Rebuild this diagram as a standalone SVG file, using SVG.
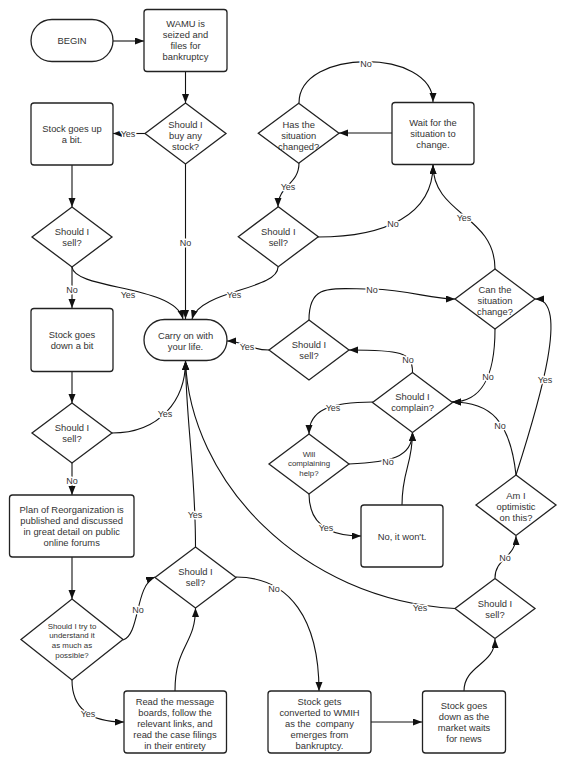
<svg xmlns="http://www.w3.org/2000/svg" width="575" height="768" viewBox="0 0 575 768">
<defs>
<marker id="ah" markerUnits="userSpaceOnUse" markerWidth="10" markerHeight="8" refX="9" refY="3.5" orient="auto">
<path d="M0,0 L9,3.5 L0,7 z" fill="#111"/>
</marker>
<style>
.n{fill:#fff;stroke:#222;stroke-width:1.3}
.t{font-family:"Liberation Sans",Arial,sans-serif;font-size:9.4px;fill:#333;text-anchor:middle}
.s{font-size:7.9px}
.c path{fill:none;stroke:#111;stroke-width:1.1;marker-end:url(#ah)}
.l{font-family:"Liberation Sans",Arial,sans-serif;font-size:9px;fill:#333;text-anchor:middle;stroke:#fff;stroke-width:3;paint-order:stroke;stroke-linejoin:round}
</style>
</defs>
<rect width="575" height="768" fill="#fff"/>
<g class="c" id="connectors">
<path d="M113,41 L144,41"/>
<path d="M185.5,72 L185.5,103"/>
<path d="M145,133.5 L113,133.5"/>
<path d="M72,165 L72,207"/>
<path d="M185.5,164 L185.5,319"/>
<path d="M72,267 L72,308"/>
<path d="M72,267 C75,290 175,285 183,319"/>
<path d="M278,267 C278,290 200,290 192,319"/>
<path d="M72,372 L72,403"/>
<path d="M112,433 C160,433 185.5,400 185.5,361"/>
<path d="M72,463 L72,495"/>
<path d="M72,557 L72,599"/>
<path d="M123,640 C140,635 135,585 155,577"/>
<path d="M72,680 C72,712 95,722 124,722"/>
<path d="M175,691 C175,645 195.5,645 195.5,608"/>
<path d="M195.5,547 C195.5,470 186,420 185.5,361"/>
<path d="M236,577 C290,577 319,620 319,691"/>
<path d="M371,722 L422,722"/>
<path d="M464,691 C464,665 495,665 495,639"/>
<path d="M455,608.5 C300,600 190,480 185.5,361"/>
<path d="M495,578 C495,558 516,558 516,536"/>
<path d="M516,475 C510,420 490,402 452,402"/>
<path d="M516,475 C540,400 570,299 535,299"/>
<path d="M495,329 C495,380 480,402 452,402"/>
<path d="M495,269 C495,215 433,215 433,165"/>
<path d="M318,237 C385,237 433,215 433,165"/>
<path d="M392,133 L339,133"/>
<path d="M299,103 C299,48 433,48 433,102"/>
<path d="M299,163 C299,185 278,185 278,207"/>
<path d="M269,350 C250,350 242,341 227,341"/>
<path d="M309,320 C309,283 330,289 372,289 C410,290 430,299 455,299"/>
<path d="M412.5,372 C412.5,352 400,350 349,350"/>
<path d="M373,402 C330,402 309,410 309,434"/>
<path d="M349,464 C390,462 412.5,458 412.5,432"/>
<path d="M402,505 C402,470 412.5,465 412.5,432"/>
<path d="M309,494 C309,525 330,536 361,536"/>
</g>
<g id="labels">
<text class="l" x="128" y="136.5">Yes</text>
<text class="l" x="185.5" y="246">No</text>
<text class="l" x="72" y="293">No</text>
<text class="l" x="128" y="298">Yes</text>
<text class="l" x="234" y="298">Yes</text>
<text class="l" x="165" y="417">Yes</text>
<text class="l" x="72" y="484">No</text>
<text class="l" x="138" y="613">No</text>
<text class="l" x="88" y="717">Yes</text>
<text class="l" x="195" y="518">Yes</text>
<text class="l" x="274" y="592">No</text>
<text class="l" x="420" y="611">Yes</text>
<text class="l" x="505" y="561">No</text>
<text class="l" x="500" y="429">No</text>
<text class="l" x="545" y="383">Yes</text>
<text class="l" x="488" y="380">No</text>
<text class="l" x="464" y="221">Yes</text>
<text class="l" x="393" y="227">No</text>
<text class="l" x="366" y="67">No</text>
<text class="l" x="288" y="190">Yes</text>
<text class="l" x="247" y="350">Yes</text>
<text class="l" x="372" y="293">No</text>
<text class="l" x="408" y="363">No</text>
<text class="l" x="333" y="411">Yes</text>
<text class="l" x="388" y="465">No</text>
<text class="l" x="326" y="531">Yes</text>
</g>
<g id="begin"><rect class="n" x="31" y="19.5" width="82" height="42" rx="21"/><text class="t" x="72" y="44">BEGIN</text></g>
<g id="wamu"><rect class="n" x="144" y="9.5" width="83" height="62" rx="3"/><text class="t" x="185.5" y="27.3">WAMU is</text><text class="t" x="185.5" y="38.3">seized and</text><text class="t" x="185.5" y="49.3">files for</text><text class="t" x="185.5" y="60.3">bankruptcy</text></g>
<g id="buy"><path class="n" d="M185.5,103 L226,133.5 L185.5,164 L145,133.5 z"/><text class="t" x="185.5" y="127.8">Should I</text><text class="t" x="185.5" y="138.8">buy any</text><text class="t" x="185.5" y="149.8">stock?</text></g>
<g id="up"><rect class="n" x="31" y="103" width="82" height="62" rx="3"/><text class="t" x="72" y="132.3">Stock goes up</text><text class="t" x="72" y="143.3">a bit.</text></g>
<g id="sell1"><path class="n" d="M72,207 L112,237 L72,267 L32,237 z"/><text class="t" x="72" y="235">Should I</text><text class="t" x="72" y="246">sell?</text></g>
<g id="carry"><rect class="n" x="144" y="319.5" width="83" height="41" rx="20.5"/><text class="t" x="185.5" y="339">Carry on with</text><text class="t" x="185.5" y="350">your life.</text></g>
<g id="down"><rect class="n" x="31" y="308.5" width="82" height="63" rx="3"/><text class="t" x="72" y="338.3">Stock goes</text><text class="t" x="72" y="349.3">down a bit</text></g>
<g id="sell2"><path class="n" d="M72,403 L112,433 L72,463 L32,433 z"/><text class="t" x="72" y="431">Should I</text><text class="t" x="72" y="442">sell?</text></g>
<g id="plan"><rect class="n" x="9.5" y="495" width="124.5" height="62" rx="3"/><text class="t" x="71.7" y="512.6">Plan of Reorganization is</text><text class="t" x="71.7" y="523.6">published and discussed</text><text class="t" x="71.7" y="534.6">in great detail on public</text><text class="t" x="71.7" y="545.6">online forums</text></g>
<g id="try"><path class="n" d="M72,599 L123,639.5 L72,680 L21,639.5 z"/><text class="t s" x="72" y="628.5">Should I try to</text><text class="t s" x="72" y="638.3">understand it</text><text class="t s" x="72" y="648.1">as much as</text><text class="t s" x="72" y="657.9">possible?</text></g>
<g id="midsell"><path class="n" d="M195.5,547 L236,577.5 L195.5,608 L155,577.5 z"/><text class="t" x="195.5" y="575.3">Should I</text><text class="t" x="195.5" y="586.3">sell?</text></g>
<g id="read"><rect class="n" x="124" y="691" width="102.5" height="62" rx="3"/><text class="t" x="175" y="705">Read the message</text><text class="t" x="175" y="716">boards, follow the</text><text class="t" x="175" y="727">relevant links, and</text><text class="t" x="175" y="738">read the case filings</text><text class="t" x="175" y="749">in their entirety</text></g>
<g id="converted"><rect class="n" x="268" y="691" width="103" height="62" rx="3"/><text class="t" x="319.5" y="705">Stock gets</text><text class="t" x="319.5" y="716">converted to WMIH</text><text class="t" x="319.5" y="727" xml:space="preserve">as the  company</text><text class="t" x="319.5" y="738">emerges from</text><text class="t" x="319.5" y="749">bankruptcy.</text></g>
<g id="market"><rect class="n" x="422.5" y="691" width="83" height="62" rx="3"/><text class="t" x="464" y="709">Stock goes</text><text class="t" x="464" y="720">down as the</text><text class="t" x="464" y="731">market waits</text><text class="t" x="464" y="742">for news</text></g>
<g id="brsell"><path class="n" d="M495,578.5 L535,608.5 L495,638.5 L455,608.5 z"/><text class="t" x="495" y="606.6">Should I</text><text class="t" x="495" y="617.6">sell?</text></g>
<g id="optimistic"><path class="n" d="M516,475 L556,505 L516,535.5 L476,505 z"/><text class="t" x="516" y="499.3">Am I</text><text class="t" x="516" y="510.3">optimistic</text><text class="t" x="516" y="521.3">on this?</text></g>
<g id="can"><path class="n" d="M495,269 L535,299 L495,329 L455,299 z"/><text class="t" x="495" y="292.6">Can the</text><text class="t" x="495" y="303.6">situation</text><text class="t" x="495" y="314.6">change?</text></g>
<g id="complain"><path class="n" d="M412.5,372.5 L452.5,402.5 L412.5,432.5 L372.5,402.5 z"/><text class="t" x="412.5" y="400">Should I</text><text class="t" x="412.5" y="411">complain?</text></g>
<g id="will"><path class="n" d="M309,434 L349,464 L309,494 L269,464 z"/><text class="t s" x="309" y="457.2">Will</text><text class="t s" x="309" y="466.4">complaining</text><text class="t s" x="309" y="475.6">help?</text></g>
<g id="wont"><rect class="n" x="361" y="505" width="82" height="62" rx="3"/><text class="t" x="402" y="540">No, it won't.</text></g>
<g id="nearsell"><path class="n" d="M309,320 L349,350 L309,380 L269,350 z"/><text class="t" x="309" y="348.3">Should I</text><text class="t" x="309" y="359.3">sell?</text></g>
<g id="has"><path class="n" d="M298.7,103.3 L339,133.3 L298.7,163.3 L258.3,133.3 z"/><text class="t" x="298.7" y="127.6">Has the</text><text class="t" x="298.7" y="138.6">situation</text><text class="t" x="298.7" y="149.6">changed?</text></g>
<g id="wait"><rect class="n" x="392" y="102.5" width="82" height="62" rx="3"/><text class="t" x="433" y="125.6">Wait for the</text><text class="t" x="433" y="136.8">situation to</text><text class="t" x="433" y="148">change.</text></g>
<g id="topsell"><path class="n" d="M278.3,206.7 L318.3,236.7 L278.3,266.7 L238.3,236.7 z"/><text class="t" x="278.3" y="235">Should I</text><text class="t" x="278.3" y="245.6">sell?</text></g>
</svg>
